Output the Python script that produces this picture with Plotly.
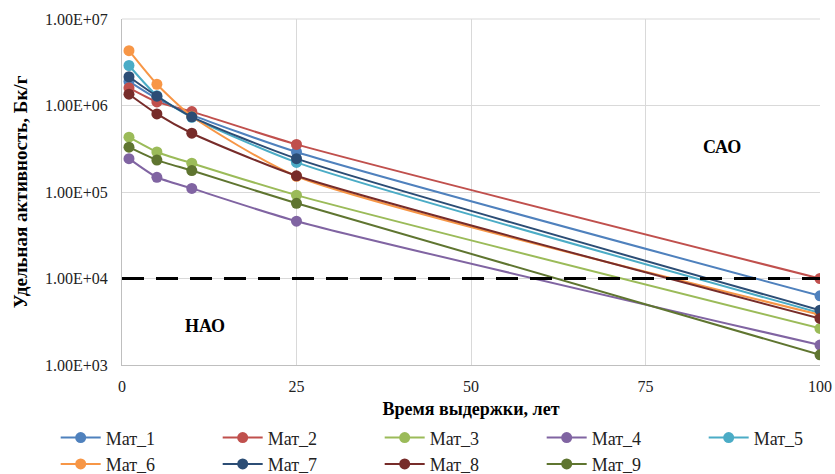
import plotly.graph_objects as go

years = [1, 5, 10, 25, 100]
mat_1 = [1.9e6, 1.2e6, 7.8e5, 2.9e5, 6.3e3]
mat_2 = [1.6e6, 1.1e6, 8.5e5, 3.55e5, 1.0e4]
mat_3 = [4.3e5, 2.9e5, 2.15e5, 9.2e4, 2.65e3]
mat_4 = [2.43e5, 1.48e5, 1.1e5, 4.6e4, 1.7e3]
mat_5 = [2.9e6, 1.3e6, 7.3e5, 2.2e5, 4.0e3]
mat_6 = [4.3e6, 1.76e6, 7.5e5, 1.52e5, 3.8e3]
mat_7 = [2.15e6, 1.28e6, 7.4e5, 2.43e5, 4.3e3]
mat_8 = [1.35e6, 8.0e5, 4.78e5, 1.54e5, 3.45e3]
mat_9 = [3.3e5, 2.34e5, 1.77e5, 7.4e4, 1.31e3]

names = ["Мат_1", "Мат_2", "Мат_3", "Мат_4", "Мат_5", "Мат_6", "Мат_7", "Мат_8", "Мат_9"]
series = [mat_1, mat_2, mat_3, mat_4, mat_5, mat_6, mat_7, mat_8, mat_9]
colors = ["#4F81BD", "#C0504D", "#9BBB59", "#8064A2", "#4BACC6",
          "#F79646", "#2C4D75", "#772C2A", "#5F7530"]

limit_x = [0, 100]
limit_y = [1e4, 1e4]

y_tickvals = [1e3, 1e4, 1e5, 1e6, 1e7]
y_ticktext = ["1.00E+03", "1.00E+04", "1.00E+05", "1.00E+06", "1.00E+07"]
x_tickvals = [0, 25, 50, 75, 100]

font_family = "Liberation Serif, Times New Roman, serif"

fig = go.Figure()
for name, vals, col in zip(names, series, colors):
    fig.add_trace(go.Scatter(
        x=years, y=vals, name=name, mode="lines+markers",
        line=dict(color=col, width=2, shape="spline", smoothing=0.6),
        marker=dict(color=col, size=11),
    ))

fig.add_trace(go.Scatter(
    x=limit_x, y=limit_y, mode="lines", showlegend=False,
    line=dict(color="black", width=3, dash="22px,12px"),
    hoverinfo="skip",
))

fig.add_annotation(x=86, y=5.52, xref="x", yref="y", text="<b>САО</b>",
                   showarrow=False, font=dict(family=font_family, size=18, color="black"))
fig.add_annotation(x=11.9, y=3.45, xref="x", yref="y", text="<b>НАО</b>",
                   showarrow=False, font=dict(family=font_family, size=18, color="black"))

fig.update_layout(
    width=835, height=474,
    margin=dict(l=122, r=15, t=19, b=109, autoexpand=False),
    paper_bgcolor="white", plot_bgcolor="white",
    font=dict(family=font_family, size=16, color="#222222"),
    showlegend=True,
    legend=dict(
        orientation="h", xref="paper", yref="paper",
        x=-0.095, xanchor="left", y=-0.157, yanchor="top",
        entrywidth=107, entrywidthmode="pixels",
        font=dict(family=font_family, size=18, color="#222222"),
        itemwidth=40, tracegroupgap=0,
    ),
    xaxis=dict(
        range=[0, 100], tickvals=x_tickvals, showgrid=True, gridcolor="#D9D9D9",
        zeroline=False, showline=True, linecolor="#BFBFBF", linewidth=1,
        ticks="", ticklabelstandoff=7,
        title=dict(text="<b>Время выдержки, лет</b>", font=dict(family=font_family, size=18, color="black"),
                   standoff=8),
        tickfont=dict(family=font_family, size=16),
    ),
    yaxis=dict(
        type="log", range=[3, 7], tickvals=y_tickvals, ticktext=y_ticktext,
        showgrid=True, gridcolor="#D9D9D9", zeroline=False,
        showline=True, linecolor="#BFBFBF", linewidth=1, ticks="",
        ticklabelstandoff=10,
        title=dict(text="<b>Удельная активность, Бк/г</b>", font=dict(family=font_family, size=19, color="black"),
                   standoff=12),
        tickfont=dict(family=font_family, size=16),
        mirror=False,
    ),
)
fig.add_shape(type="line", xref="paper", yref="paper", x0=0, x1=1, y0=1, y1=1,
              line=dict(color="#D9D9D9", width=1))

fig.write_html("out.html", post_script="document.body.style.margin='0';",
               config={"displayModeBar": False})
